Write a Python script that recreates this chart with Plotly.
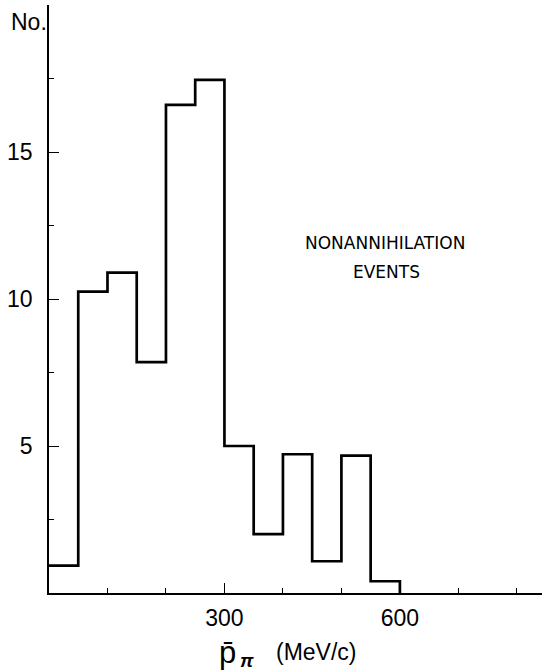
import plotly.graph_objects as go

# Histogram of pion momentum for nonannihilation events (50 MeV/c bins)
bin_edges = [0, 50, 100, 150, 200, 250, 300, 350, 400, 450, 500, 550, 600]
counts = [0.93, 10.25, 10.9, 7.85, 16.6, 17.45, 5.0, 2.0, 4.72, 1.08, 4.67, 0.4]

y_major_ticks = [5, 10, 15]
y_minor_ticks = [2.5, 7.5, 12.5, 17.5]
x_major_ticks = [300, 600]
x_minor_ticks = [100, 200, 400, 500, 700, 800]

# Step outline: each bin drawn as horizontal run, then drop/rise to the next bin
step_x = bin_edges
step_y = counts + [0]

fig = go.Figure()
fig.add_trace(go.Scatter(
    x=step_x, y=step_y, mode="lines",
    line=dict(color="black", width=2.7, shape="hv"),
    hoverinfo="skip", showlegend=False,
))

tick_font = dict(family="Liberation Sans, Arial, sans-serif", size=23, color="black")

fig.update_layout(
    width=542, height=671,
    margin=dict(l=49, r=0, t=5, b=78),
    paper_bgcolor="white", plot_bgcolor="white",
    showlegend=False,
    xaxis=dict(
        range=[0, 843], showgrid=False, zeroline=False,
        showline=True, linecolor="black", linewidth=1.6,
        tickmode="array", tickvals=x_major_ticks,
        ticktext=[str(v) for v in x_major_ticks],
        ticks="inside", ticklen=10, tickwidth=1.4, tickcolor="black",
        tickfont=tick_font, ticklabelstandoff=4,
        minor=dict(tickmode="array", tickvals=x_minor_ticks, ticks="inside",
                   ticklen=5, tickwidth=1.4, tickcolor="black", showgrid=False),
    ),
    yaxis=dict(
        range=[0, 20], showgrid=False, zeroline=False,
        showline=True, linecolor="black", linewidth=1.6,
        tickmode="array", tickvals=y_major_ticks,
        ticktext=[str(v) for v in y_major_ticks],
        ticks="inside", ticklen=10, tickwidth=1.4, tickcolor="black",
        tickfont=tick_font, ticklabelstandoff=10,
        minor=dict(tickmode="array", tickvals=y_minor_ticks, ticks="inside",
                   ticklen=5, tickwidth=1.4, tickcolor="black", showgrid=False),
    ),
)

SANS = "Liberation Sans, Arial, sans-serif"
WIDE = "DejaVu Sans, Verdana, sans-serif"

# (text, page x px, page y px, font size, family)
annotations = [
    ("No.", 29, 22, 23, SANS),
    ("NONANNIHILATION", 385, 243, 17, WIDE),
    ("EVENTS", 386, 272, 17, WIDE),
    ("p\u0304", 227, 652, 31, SANS),
    ("<b><i>\u03c0</i></b>", 247, 660, 19, SANS),
    ("(MeV/c)", 316, 652, 23, SANS),
]

# annotations are positioned in page pixels; map onto the paper coordinates of the plot area
plot_l, plot_t, plot_w, plot_h = 49, 5, 542 - 49, 671 - 5 - 78
for text, x_page, y_page, fs, fam in annotations:
    fig.add_annotation(
        text=text,
        x=(x_page - plot_l) / plot_w, y=1 - (y_page - plot_t) / plot_h,
        xref="paper", yref="paper", xanchor="center", yanchor="middle",
        showarrow=False,
        font=dict(family=fam, size=fs, color="black"),
    )

fig.write_html("out.html")
